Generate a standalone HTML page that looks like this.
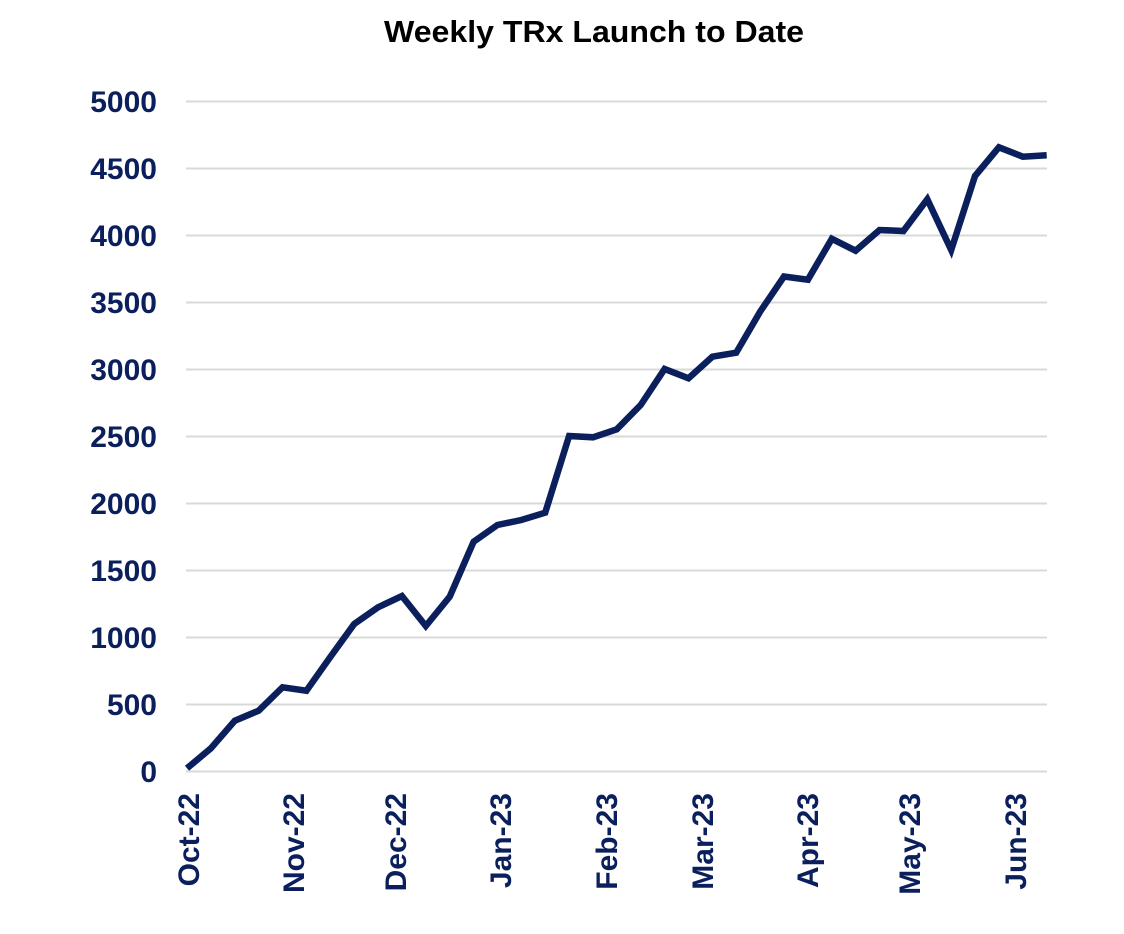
<!DOCTYPE html>
<html>
<head>
<meta charset="utf-8">
<style>
  html, body { margin: 0; padding: 0; background: #ffffff; }
  body { width: 1124px; height: 934px; overflow: hidden; }
  svg { display: block; }
</style>
</head>
<body>
<svg width="1124" height="934" viewBox="0 0 1124 934" xmlns="http://www.w3.org/2000/svg">
  <rect x="0" y="0" width="1124" height="934" fill="#ffffff"/>
  <!-- Title -->
  <text x="594" y="42" text-anchor="middle" font-family="'Liberation Sans', sans-serif" font-weight="bold" font-size="31" fill="#000000" textLength="420" lengthAdjust="spacingAndGlyphs">Weekly TRx Launch to Date</text>

  <!-- Gridlines -->
  <g stroke="#d9d9d9" stroke-width="2">
    <line x1="186" y1="101.5" x2="1047" y2="101.5"/>
    <line x1="186" y1="168.5" x2="1047" y2="168.5"/>
    <line x1="186" y1="235.5" x2="1047" y2="235.5"/>
    <line x1="186" y1="302.5" x2="1047" y2="302.5"/>
    <line x1="186" y1="369.5" x2="1047" y2="369.5"/>
    <line x1="186" y1="436.5" x2="1047" y2="436.5"/>
    <line x1="186" y1="503.5" x2="1047" y2="503.5"/>
    <line x1="186" y1="570.5" x2="1047" y2="570.5"/>
    <line x1="186" y1="637.5" x2="1047" y2="637.5"/>
    <line x1="186" y1="704.5" x2="1047" y2="704.5"/>
    <line x1="186" y1="771.5" x2="1047" y2="771.5"/>
  </g>

  <!-- Y axis labels -->
  <g font-family="'Liberation Sans', sans-serif" font-weight="bold" font-size="30" fill="#0a1f5c" text-anchor="end">
    <text x="157" y="112">5000</text>
    <text x="157" y="179">4500</text>
    <text x="157" y="246">4000</text>
    <text x="157" y="313">3500</text>
    <text x="157" y="380">3000</text>
    <text x="157" y="447">2500</text>
    <text x="157" y="514">2000</text>
    <text x="157" y="581">1500</text>
    <text x="157" y="648">1000</text>
    <text x="157" y="715">500</text>
    <text x="157" y="782">0</text>
  </g>

  <!-- X axis labels (rotated) -->
  <g font-family="'Liberation Sans', sans-serif" font-weight="bold" font-size="30" fill="#0a1f5c" text-anchor="end">
    <text transform="translate(199,793) rotate(-90)">Oct-22</text>
    <text transform="translate(304,793) rotate(-90)">Nov-22</text>
    <text transform="translate(406,793) rotate(-90)">Dec-22</text>
    <text transform="translate(511,793) rotate(-90)">Jan-23</text>
    <text transform="translate(617,793) rotate(-90)">Feb-23</text>
    <text transform="translate(713,793) rotate(-90)">Mar-23</text>
    <text transform="translate(818,793) rotate(-90)">Apr-23</text>
    <text transform="translate(920,793) rotate(-90)">May-23</text>
    <text transform="translate(1026,793) rotate(-90)">Jun-23</text>
  </g>

  <!-- Series -->
  <polyline fill="none" stroke="#0a1f5c" stroke-width="6.5" stroke-linejoin="miter" stroke-miterlimit="4" stroke-linecap="butt"
    points="
      187,768.3
      210.9,748.3
      234.8,720.7
      258.6,710.7
      282.5,687.3
      306.4,690.7
      330.3,657
      354.2,624
      378,607.3
      401.9,596
      425.8,626
      449.7,596.7
      473.6,541.7
      497.4,525
      521.3,520
      545.2,512.7
      569.1,436
      593,437.3
      616.8,429.3
      640.7,405
      664.6,369
      688.5,378.3
      712.4,356.7
      736.2,352.7
      760.1,311.7
      784,276.5
      807.9,279.7
      831.8,238.8
      855.6,250.7
      879.5,230
      903.4,231
      927.3,199.3
      951.2,250
      975,176
      998.9,147.3
      1022.8,156.7
      1046.7,155.3"/>
</svg>
</body>
</html>
